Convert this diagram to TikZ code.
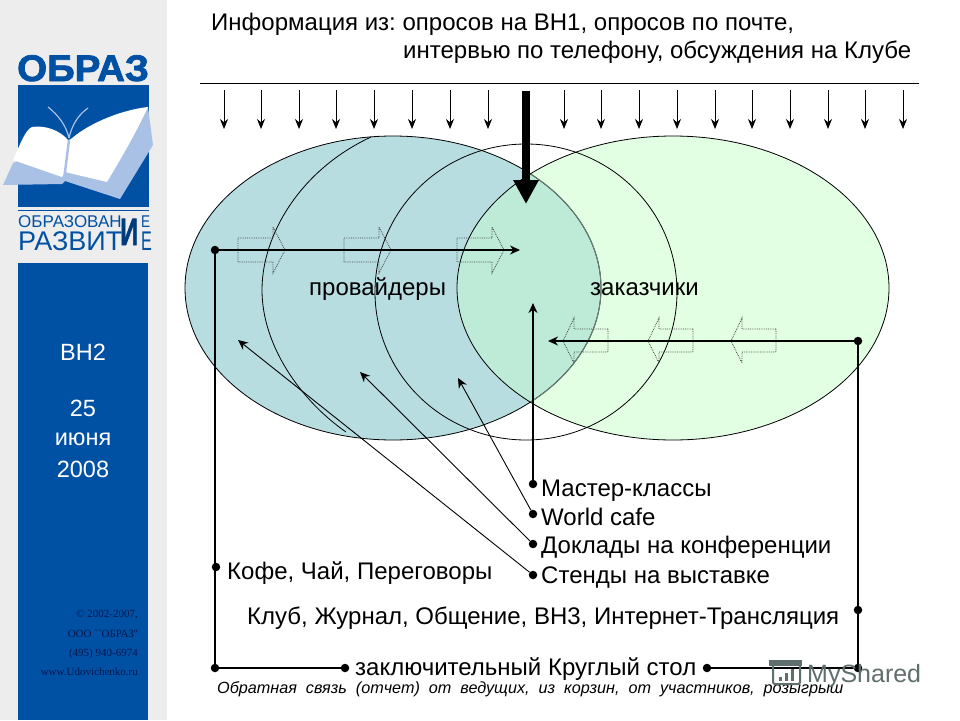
\documentclass[tikz,border=0pt]{standalone}
\usepackage{fontspec}
\setmainfont{Liberation Sans}
\newfontfamily\serifsmall{Liberation Serif}
\newfontfamily\logofont[FakeBold=2]{Liberation Sans Bold}
\usetikzlibrary{arrows.meta}
\definecolor{panelgray}{HTML}{EDEDED}
\definecolor{logoblue}{HTML}{0050A4}
\definecolor{bookblue}{HTML}{A9C1E4}
\definecolor{tealfill}{HTML}{B8DDE1}
\definecolor{greenfill}{HTML}{E3FFE3}
\definecolor{overlapfill}{HTML}{BEEBD8}
\definecolor{smalltext}{HTML}{04194F}
\definecolor{markgray}{HTML}{5F6F6E}
\frenchspacing
\tikzset{
  dot/.style={circle, fill=black, inner sep=0pt, minimum size=8.5pt},
  label/.style={anchor=base west, inner sep=0pt, font=\fontsize{24}{28}\selectfont},
  side/.style={anchor=base, inner sep=0pt, text=white, font=\fontsize{23.5}{28}\selectfont},
  copyr/.style={anchor=base east, inner sep=0pt, text=smalltext, font=\serifsmall\fontsize{11}{13}\selectfont},
  logotext/.style={anchor=base west, inner sep=0pt, text=logoblue},
  wire/.style={line width=1.2pt},
  wirearrow/.style={line width=1.2pt, -{Stealth[length=10pt,width=9pt]}},
  thinarrow/.style={line width=0.9pt, -{Stealth[length=10pt,width=9pt]}},
  blockarrow/.style={densely dotted, line width=0.8pt, draw=black!75}
}
\begin{document}
\begin{tikzpicture}[x=1pt, y=-1pt, >=stealth]
\useasboundingbox (0,0) rectangle (960,720);
\fill [white] (0,0) rectangle (960,720);

% side panel
\fill [panelgray] (0,0) rectangle (167,720);
\fill [logoblue] (18,85) rectangle (149,207);
\fill [logoblue] (18,263) rectangle (148,720);
\draw [logoblue, line width=1pt] (18,210) -- (149,210);

% book in the logo
\fill [bookblue] (3,185) -- (13,163) -- (68,140) -- (148,107) -- (153,145) -- (120,199) -- (65,181) -- (62,184) -- cycle;
\fill [white] (13,160) .. controls (20,145) and (25,130) .. (32,127) .. controls (45,125) and (60,130) .. (69,141)
  .. controls (85,125) and (120,110) .. (148,107) .. controls (135,135) and (120,160) .. (107,182) -- (65,172) -- (62,177) -- cycle;
\draw [bookblue, line width=1.2pt] (48,107) .. controls (58,115) and (66,125) .. (69,138);
\draw [bookblue, line width=1.2pt] (88,108) .. controls (78,115) and (72,125) .. (69,138);
\draw [bookblue, line width=2.5pt] (69,140) -- (64,180);

% logo lettering
\node [logotext, xscale=1.04, font=\logofont\fontsize{37}{40}\selectfont] (logo-top) at (17,81) {ОБРАЗ};
\node [logotext, font=\fontsize{17}{20}\selectfont] (logo-mid) at (18,227) {ОБРАЗОВАН};
\node [logotext, font=\fontsize{27}{30}\selectfont] (logo-low) at (18,250) {РАЗВИТ};
\node [logotext, xscale=.8, font=\fontsize{17}{20}\selectfont] (logo-e1) at (141,227) {Е};
\node [logotext, xscale=.6, font=\fontsize{27}{30}\selectfont] (logo-e2) at (141,250) {Е};
\node [logotext, xscale=.66, font=\logofont\fontsize{38}{40}\selectfont, text=logoblue!75!black] (logo-i) at (120,245) {И};

% side labels
\foreach \t/\y/\n in {ВН2/360/a, 25/416/b, июня/445/c, 2008/477/d}
  \node [side] (side-\n) at (83,\y) {\t};
\foreach \t/\y/\n in {{© 2002-2007,}/617/a, {ООО ``ОБРАЗ''}/637/b, {(495) 940-6974}/656/c, {www.Udovichenko.ru}/675/d}
  \node [copyr] (copy-\n) at (138,\y) {\t};

% ellipses
\fill [greenfill] (673,288) ellipse [x radius=216, y radius=152];
\fill [tealfill] (393,288) ellipse [x radius=208, y radius=152];
\begin{scope}
  \clip (393,288) ellipse [x radius=208, y radius=152];
  \fill [overlapfill] (673,288) ellipse [x radius=216, y radius=152];
\end{scope}
\draw [line width=0.8pt] (393,288) ellipse [x radius=208, y radius=152];
\begin{scope}
  \clip (673,288) ellipse [x radius=216, y radius=152];
  \draw [black!45!overlapfill, line width=1pt] (393,288) ellipse [x radius=208, y radius=152];
\end{scope}
\draw [line width=0.8pt] (673,288) ellipse [x radius=216, y radius=152];
\draw [line width=0.8pt] (526,292) ellipse [x radius=151, y radius=148];
\draw [line width=0.8pt] (371,137) .. controls (300,170) and (262,235) .. (262,290) .. controls (262,345) and (300,400) .. (346,432);

% block arrows
\foreach \x in {238,344,457}
  \draw [blockarrow] (\x,238) -- ++(35,0) -- ++(0,-11) -- ++(12,23) -- ++(-12,23) -- ++(0,-11) -- ++(-35,0) -- cycle;
\foreach \x in {608,693,776}
  \draw [blockarrow] (\x,329) -- ++(-34,0) -- ++(0,-11) -- ++(-11,23) -- ++(11,22) -- ++(0,-11) -- ++(34,0) -- cycle;

% info at the top
\node [label] (info-1) at (211,30) {Информация из: опросов на ВН1, опросов по почте,};
\node [label] (info-2) at (403,58) {интервью по телефону, обсуждения на Клубе};
\coordinate (top-l) at (200,83);
\coordinate (top-r) at (919,83);
\draw [line width=0.7pt] (top-l) -- (top-r);

% small arrows below the line
\foreach \x in {224,261,299,336,374,412,450,488,564,601,639,677,715,752,790,828,865,903} {
  \coordinate (in-a) at (\x,90);
  \coordinate (in-b) at (\x,129);
  \draw [line width=1pt, -{Stealth[length=10pt,width=8pt]}] (in-a) -- (in-b);
}
% big arrow
\coordinate (big-a) at (526,91);
\coordinate (big-b) at (526,204);
\draw [line width=8pt, -{Stealth[length=24pt,width=24pt,inset=0pt]}] (big-a) -- (big-b);

% dots
\foreach \n/\x/\y in {prov/215/250, zak/858/341, cafe/216/567, stol-l/345/668, stol-r/707/668, base-l/215/668,
  base-r/858/668, club/858/610, m1/533/484, m2/533/514, m3/533/544, m4/533/575}
  \node [dot] (\n) at (\x,\y) {};
\coordinate (prov-end) at (520,250);
\coordinate (zak-end) at (548,341);
\coordinate (m1-end) at (533,303);
\coordinate (m2-end) at (458,378);
\coordinate (m3-end) at (360,372);
\coordinate (m4-end) at (238,340);

% connectors
\draw [wirearrow] (prov) -- (prov-end);
\draw [wirearrow] (zak) -- (zak-end);
\draw [wire] (prov) -- (base-l);
\draw [wire] (zak) -- (base-r);
\draw [wire] (base-l) -- (stol-l);
\draw [wire] (stol-r) -- (base-r);
\draw [wirearrow] (m1) -- (m1-end);
\draw [thinarrow] (m2) -- (m2-end);
\draw [thinarrow] (m3) -- (m3-end);
\draw [thinarrow] (m4) -- (m4-end);

% labels
\node [label] (provaidery) at (309,295) {провайдеры};
\node [label] (zakazchiki) at (590,295) {заказчики};
\node [label] (master) at (541,496) {Мастер-классы};
\node [label] (world) at (541,525) {World cafe};
\node [label] (talks) at (541,553) {Доклады на конференции};
\node [label] (stands) at (541,583) {Стенды на выставке};
\node [label] (coffee) at (227,579) {Кофе, Чай, Переговоры};
\node [label] (journal) at (247,624) {Клуб, Журнал, Общение, ВН3, Интернет-Трансляция};
\node [label] (round) at (355,675) {заключительный Круглый стол};
\node [label, font=\itshape\fontsize{16.2}{18}\selectfont] (feedback) at (217,693) {Обратная\ \ связь\ \ (отчет)\ \ от\ \ ведущих,\ \ из\ \ корзин,\ \ от\ \ участников,\ \ розыгрыш};

% watermark
\draw [markgray, line width=2pt, rounded corners=2pt] (773,662) rectangle (800,684);
\fill [markgray] (769,660) rectangle (802,666);
\foreach \x/\h in {779/4, 785/8, 791/12}
  \fill [markgray] (\x,681) rectangle ++(3,-\h);
\node [label, text=markgray, font=\fontsize{25}{28}\selectfont] (mark) at (807,682) {MyShared};
\end{tikzpicture}
\end{document}
